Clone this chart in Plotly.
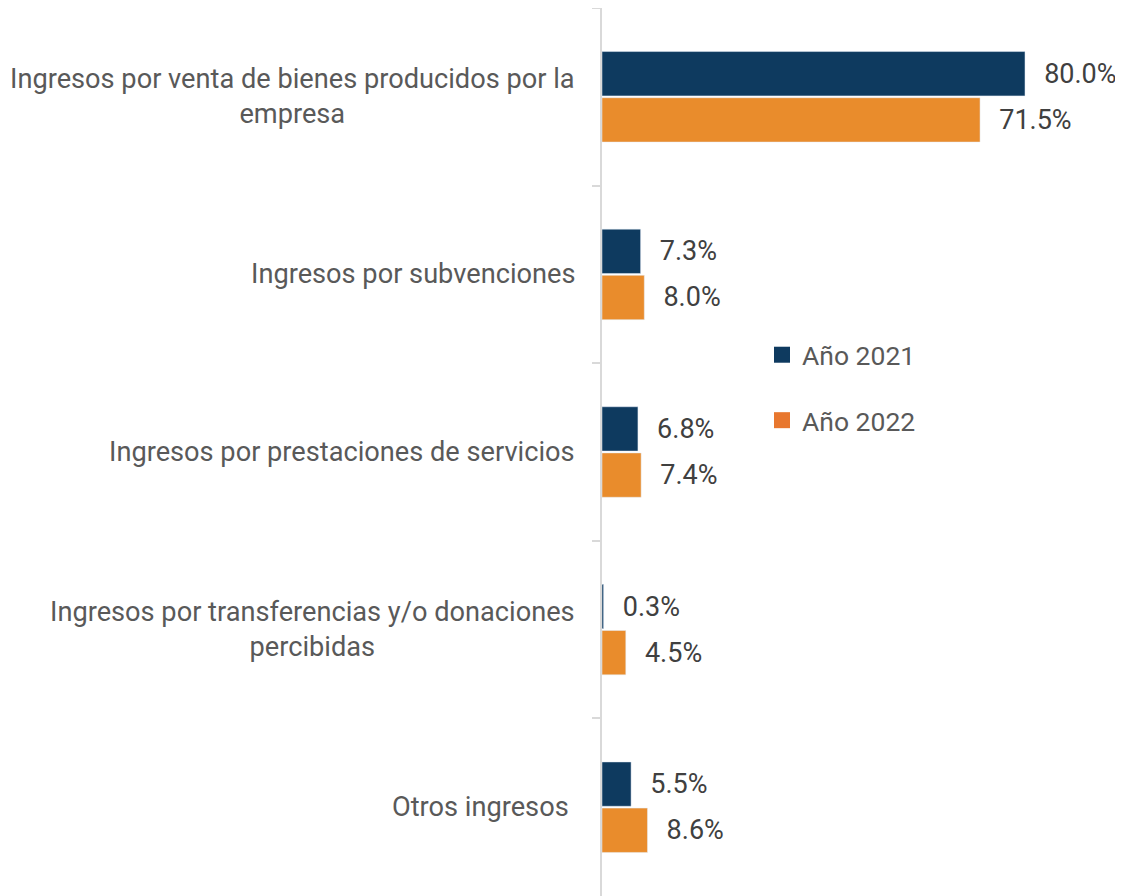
import plotly.graph_objects as go

categorias = [
    "Ingresos por venta de bienes producidos por la<br>empresa",
    "Ingresos por subvenciones",
    "Ingresos por prestaciones de servicios",
    "Ingresos por transferencias y/o donaciones<br>percibidas",
    "Otros ingresos\u00a0",
]
anio_2021 = [80.0, 7.3, 6.8, 0.3, 5.5]
anio_2022 = [71.5, 8.0, 7.4, 4.5, 8.6]

NAVY = "#0E3A5F"
ORANGE = "#E98C2C"
PAD = "\u00a0\u00a0\u200a"

fig = go.Figure()

for nombre, valores, color in [("Año 2021", anio_2021, NAVY), ("Año 2022", anio_2022, ORANGE)]:
    fig.add_trace(go.Bar(
        name=nombre,
        y=categorias,
        x=valores,
        orientation="h",
        marker_color=color,
        text=[PAD + f"{v:.1f}%" for v in valores],
        textposition="outside",
        constraintext="none",
        cliponaxis=False,
        textfont=dict(size=27, color="#404040", family="Roboto"),
        showlegend=False,
    ))

# legend entries with bigger square markers
for i, (nombre, color) in enumerate([("Año 2021", NAVY), ("Año 2022", "#E8772E")]):
    fig.add_trace(go.Scatter(
        x=[None], y=[None], mode="markers", name=nombre,
        marker=dict(symbol="square", size=16, color=color),
        legendgroup=f"g{i}",
    ))

# category labels as centred annotations
for cat in categorias:
    fig.add_annotation(
        x=0, xref="paper", y=cat, yref="y",
        text=cat, showarrow=False,
        xanchor="right", align="center", xshift=-25,
        font=dict(size=27.2, color="#595959", family="Roboto"),
    )

fig.update_layout(
    width=1123, height=888,
    margin=dict(l=594, r=0, t=0, b=0),
    paper_bgcolor="white", plot_bgcolor="white",
    font=dict(family="Roboto", size=27, color="#595959"),
    barmode="group", bargap=0.48, bargroupgap=0.04,
    legend=dict(
        x=(762 - 602) / 529, y=1 - 323 / 888,
        xanchor="left", yanchor="top",
        font=dict(size=26.5, color="#595959"),
        tracegroupgap=28, traceorder="grouped",
        bgcolor="rgba(0,0,0,0)",
    ),
)
fig.update_xaxes(range=[0, 100.05], visible=False, showgrid=False, zeroline=False)
fig.update_yaxes(
    categoryorder="array", categoryarray=categorias, autorange="reversed",
    showticklabels=False, showgrid=False, zeroline=False,
    showline=True, linecolor="#D9D9D9", linewidth=2,
    ticks="outside", tickson="boundaries", ticklen=8, tickcolor="#D9D9D9", tickwidth=2,
)

fig.write_html("out.html")
